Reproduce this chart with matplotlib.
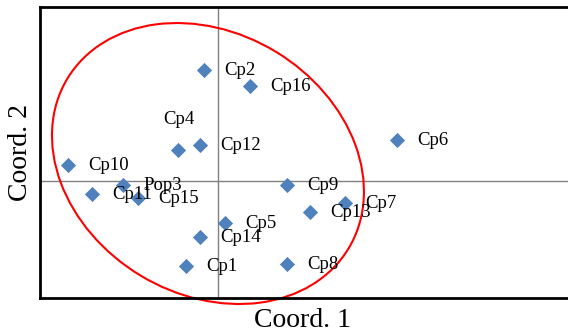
import matplotlib
matplotlib.use("Agg")
import matplotlib.pyplot as plt
from matplotlib.patches import Ellipse

plt.rcParams["font.family"] = ["Liberation Serif", "DejaVu Serif"]

# coordenadas de las accesiones (PCoA)
labels = ["Cp1", "Cp2", "Cp4", "Cp5", "Cp6", "Cp7", "Cp8", "Cp9", "Cp10",
          "Cp11", "Cp12", "Cp13", "Cp14", "Cp15", "Cp16", "Pop3"]
coord1 = [-0.64, -0.28, -0.80, 0.14, 3.58, 2.54, 1.38, 1.38, -3.00,
          -2.52, -0.36, 1.84, -0.36, -1.60, 0.64, -1.90]
coord2 = [-1.70, 2.22, 0.62, -0.84, 0.82, -0.44, -1.66, -0.08, 0.32,
          -0.26, 0.72, -0.62, -1.12, -0.34, 1.90, -0.08]

# elipse del grupo principal
ell_center = (-0.20, 0.35)
ell_width = 6.57
ell_height = 5.23
ell_angle = -31.1

fig = plt.figure(figsize=(5.68, 3.33), dpi=100)
ax = fig.add_axes([0.0704, 0.105, 0.933, 0.874])

ax.axhline(0, color="#808080", lw=1.0, zorder=1)
ax.axvline(0, color="#808080", lw=1.0, zorder=1)

ax.scatter(coord1, coord2, marker="D", s=60, color="#4F81BD", zorder=3, linewidths=0)

for lab, x, y in zip(labels, coord1, coord2):
    if lab == "Cp4":
        off = (-15, 31)
    else:
        off = (20, 0)
    ax.annotate(lab, (x, y), xytext=off, textcoords="offset pixels",
                fontsize=13.5, va="center", ha="left", zorder=4)

ax.add_patch(Ellipse(ell_center, ell_width, ell_height, angle=ell_angle,
                     fill=False, edgecolor="red", lw=1.5, clip_on=False, zorder=2))

ax.set_xlim(-3.56, 7.04)
ax.set_ylim(-2.34, 3.48)
ax.set_xticks([])
ax.set_yticks([])
for sp in ax.spines.values():
    sp.set_linewidth(2)
    sp.set_color("black")

ax.set_xlabel("Coord. 1", fontsize=20)
ax.set_ylabel("Coord. 2", fontsize=20)
ax.xaxis.set_label_coords((303 - 40) / 530, -0.035)
ax.xaxis.label.set_va("top")
ax.yaxis.set_label_coords(-0.014, 0.5)
ax.yaxis.label.set_va("bottom")

fig.savefig("out.png", dpi=100)
